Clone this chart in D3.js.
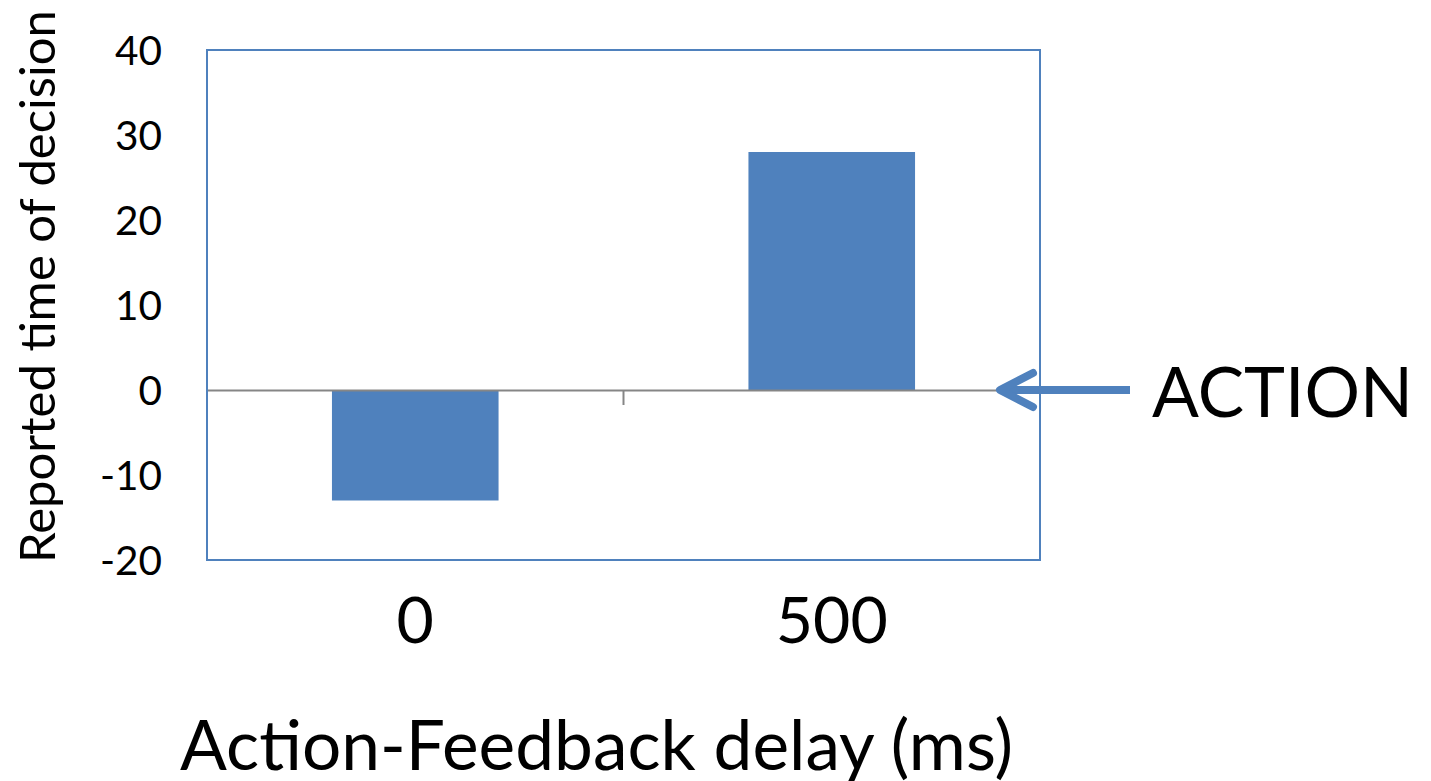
<!DOCTYPE html>
<html>
<head>
<meta charset="utf-8">
<script src="https://cdn.jsdelivr.net/npm/d3@7"></script>
<style>
  html, body { margin: 0; padding: 0; background: #fff; }
  svg { display: block; }
  text { font-family: Lato, "Open Sans", sans-serif; fill: #000; }
</style>
</head>
<body>
<svg id="chart" width="1431" height="781"></svg>
<script>
const categories = ["0", "500"];
const values = [-13, 28];
const yTicks = [-20, -10, 0, 10, 20, 30, 40];
const yTitle = "Reported time of decision";
const xTitle = "Action-Feedback delay (ms)";
const annotation = "ACTION";

const W = 1431, H = 781;
const plot = { left: 207, right: 1040, top: 50, bottom: 560 };
const blue = "#4f81bd";
const grey = "#868686";

const svg = d3.select("#chart");

const x = d3.scaleBand().domain(categories).range([plot.left, plot.right]).padding(0);
const y = d3.scaleLinear().domain([-20, 40]).range([plot.bottom, plot.top]);

function fitText(sel, targetWidth) {
  sel.style("font-size", "100px");
  const w = sel.node().getComputedTextLength();
  const fs = 100 * targetWidth / w;
  sel.style("font-size", fs + "px");
  return fs;
}

// bars
const barW = x.bandwidth() * 0.4;
svg.append("g").selectAll("rect").data(values).join("rect")
  .attr("x", (d, i) => x(categories[i]) + (x.bandwidth() - barW) / 2)
  .attr("width", barW)
  .attr("y", d => y(Math.max(0, d)))
  .attr("height", d => Math.abs(y(d) - y(0)))
  .attr("fill", blue);

// zero axis line with category ticks
const xAxis = d3.axisBottom(x).tickSize(0).tickFormat("");
const gx = svg.append("g").attr("transform", `translate(0,${y(0)})`).call(xAxis);
gx.select(".domain").attr("stroke", grey).attr("stroke-width", 2);
const boundaries = [plot.left, ...categories.slice(1).map(c => x(c)), plot.right];
gx.selectAll(".bound").data(boundaries).join("line")
  .attr("class", "bound")
  .attr("x1", d => d).attr("x2", d => d)
  .attr("y1", 0).attr("y2", 15)
  .attr("stroke", grey).attr("stroke-width", 2);

// plot border
svg.append("rect")
  .attr("x", plot.left).attr("y", plot.top)
  .attr("width", plot.right - plot.left).attr("height", plot.bottom - plot.top)
  .attr("fill", "none").attr("stroke", blue).attr("stroke-width", 2);

// y tick labels
const yAxis = d3.axisLeft(y).tickValues(yTicks).tickSize(0).tickPadding(0)
  .tickFormat(d => String(d));
const gy = svg.append("g").attr("transform", `translate(162,0)`).call(yAxis);
gy.select(".domain").remove();
const sample = gy.selectAll(".tick text").filter(d => d === 40);
const tfs = fitText(sample, 47);
gy.selectAll(".tick text")
  .style("font-size", tfs + "px")
  .style("font-family", "Lato, 'Open Sans', sans-serif")
  .attr("fill", "#000")
  .attr("dy", "0.36em");

// x category labels
const xl = svg.append("g").selectAll("text").data(categories).join("text")
  .attr("x", d => x(d) + x.bandwidth() / 2)
  .attr("y", 643)
  .attr("text-anchor", "middle")
  .text(d => d);
const xfs = fitText(xl.filter(d => d === "500"), 112);
xl.style("font-size", xfs + "px");

// x title
const xt = svg.append("text")
  .attr("x", (180 + 1013) / 2).attr("y", 770)
  .attr("text-anchor", "middle").text(xTitle);
fitText(xt, 833);

// y title
const yt = svg.append("text")
  .attr("transform", `translate(55,${(10 + 563) / 2}) rotate(-90)`)
  .attr("text-anchor", "middle").text(yTitle);
fitText(yt, 553);

// annotation arrow
const ay = y(0);
const arrow = svg.append("g")
  .attr("stroke", blue).attr("stroke-width", 8)
  .attr("stroke-linecap", "round").attr("stroke-linejoin", "round")
  .attr("fill", "none");
arrow.append("line").attr("x1", 1130).attr("x2", 1000).attr("y1", ay).attr("y2", ay)
  .attr("stroke-linecap", "butt");
arrow.append("path")
  .attr("d", `M1033,${ay - 17} L1000,${ay} L1033,${ay + 17}`);

const at = svg.append("text")
  .attr("x", 1152).attr("y", 417).text(annotation);
fitText(at, 261);
</script>
</body>
</html>
